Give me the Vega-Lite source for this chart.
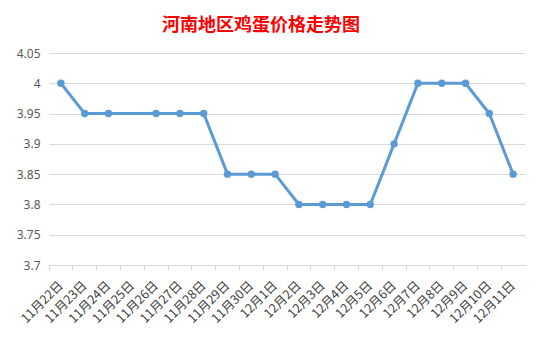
{
  "$schema": "https://vega.github.io/schema/vega-lite/v6.json",
  "width": 476,
  "height": 212,
  "autosize": {"type": "none"},
  "padding": {"left": 49, "top": 53, "right": 17, "bottom": 73},
  "background": "white",
  "title": {
    "text": "河南地区鸡蛋价格走势图",
    "font": "Noto Sans CJK SC",
    "fontSize": 18,
    "fontWeight": "bold",
    "color": "#ff0000",
    "anchor": "middle",
    "frame": "group",
    "dx": -26,
    "baseline": "alphabetic",
    "offset": -2
  },
  "data": {
    "values": [
      {"date": "11月22日", "price": 4.0},
      {"date": "11月23日", "price": 3.95},
      {"date": "11月24日", "price": 3.95},
      {"date": "11月25日", "price": null},
      {"date": "11月26日", "price": 3.95},
      {"date": "11月27日", "price": 3.95},
      {"date": "11月28日", "price": 3.95},
      {"date": "11月29日", "price": 3.85},
      {"date": "11月30日", "price": 3.85},
      {"date": "12月1日", "price": 3.85},
      {"date": "12月2日", "price": 3.8},
      {"date": "12月3日", "price": 3.8},
      {"date": "12月4日", "price": 3.8},
      {"date": "12月5日", "price": 3.8},
      {"date": "12月6日", "price": 3.9},
      {"date": "12月7日", "price": 4.0},
      {"date": "12月8日", "price": 4.0},
      {"date": "12月9日", "price": 4.0},
      {"date": "12月10日", "price": 3.95},
      {"date": "12月11日", "price": 3.85}
    ]
  },
  "encoding": {
    "x": {
      "field": "date",
      "type": "nominal",
      "sort": null,
      "scale": {
        "type": "band",
        "paddingInner": 0,
        "paddingOuter": 0,
        "domain": ["11月22日", "11月23日", "11月24日", "11月25日", "11月26日", "11月27日", "11月28日", "11月29日", "11月30日", "12月1日", "12月2日", "12月3日", "12月4日", "12月5日", "12月6日", "12月7日", "12月8日", "12月9日", "12月10日", "12月11日"]
      },
      "axis": {
        "title": null,
        "labelAngle": -45,
        "labelAlign": "right",
        "labelBaseline": "middle",
        "labelPadding": 13,
        "labelFont": "Noto Sans CJK SC",
        "labelFontSize": 12.5,
        "labelColor": "#404040",
        "labelOverlap": false,
        "domainColor": "#d9d9d9",
        "tickColor": "#d9d9d9",
        "tickSize": 5,
        "bandPosition": 0,
        "grid": false
      }
    },
    "y": {
      "field": "price",
      "type": "quantitative",
      "scale": {"domain": [3.7, 4.05], "zero": false, "nice": false},
      "axis": {
        "title": null,
        "values": [3.7, 3.75, 3.8, 3.85, 3.9, 3.95, 4.0, 4.05],
        "format": ".3~f",
        "labelFont": "Noto Sans",
        "labelFontSize": 12,
        "labelColor": "#595959",
        "labelPadding": 9,
        "ticks": false,
        "domain": false,
        "grid": true,
        "gridColor": "#d9d9d9",
        "gridWidth": 1
      }
    }
  },
  "layer": [
    {"mark": {"type": "line", "color": "#5b9bd5", "strokeWidth": 3, "invalid": "filter"}},
    {"mark": {"type": "point", "filled": true, "opacity": 1, "color": "#5b9bd5", "size": 55, "invalid": "filter"}}
  ],
  "config": {"view": {"stroke": null}}
}
